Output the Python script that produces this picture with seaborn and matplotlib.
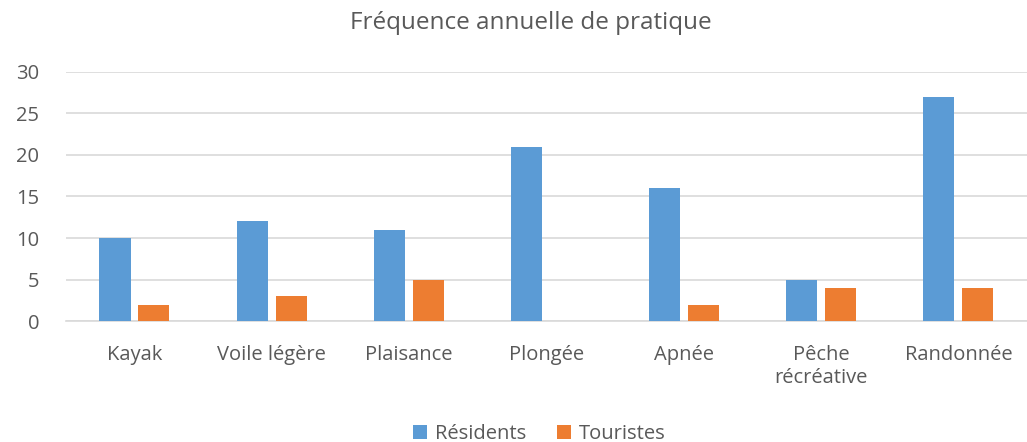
import matplotlib
matplotlib.use("Agg")
import matplotlib.pyplot as plt
import seaborn as sns
import pandas as pd

categories = ["Kayak", "Voile légère", "Plaisance", "Plongée", "Apnée", "Pêche\nrécréative", "Randonnée"]
residents = [10, 12, 11, 21, 16, 5, 27]
touristes = [2, 3, 5, 0, 2, 4, 4]
series_names = ["Résidents", "Touristes"]
yticks = [0, 5, 10, 15, 20, 25, 30]

df = pd.DataFrame({
    "Catégorie": categories * 2,
    "Valeur": residents + touristes,
    "Série": [series_names[0]] * len(categories) + [series_names[1]] * len(categories),
})

sns.set_theme(style="white")
plt.rcParams["font.family"] = ["Open Sans", "DejaVu Sans"]

fig = plt.figure(figsize=(10.27, 4.42), dpi=100)
ax = fig.add_axes([0.064, 0.273, 0.936, 0.565])

sns.barplot(data=df, x="Catégorie", y="Valeur", hue="Série",
            palette=["#5B9BD5", "#ED7D31"], saturation=1, width=0.565, gap=0.2,
            ax=ax, zorder=3, edgecolor="none")

ax.set_ylim(0, 30)
ax.set_xlim(-0.5, len(categories) - 0.5)
ax.set_yticks(yticks)
ax.set_yticklabels([str(t) for t in yticks])
ax.yaxis.grid(True, color="#D9D9D9", linewidth=1.2, zorder=0)
ax.set_axisbelow(True)
for s in ["top", "right", "left"]:
    ax.spines[s].set_visible(False)
ax.spines["bottom"].set_color("#D9D9D9")
ax.spines["bottom"].set_linewidth(1.2)
ax.tick_params(axis="both", length=0, labelsize=14.5, colors="#595959")
ax.tick_params(axis="x", pad=17)
ax.tick_params(axis="y", pad=19)
ax.set_xlabel("")
ax.set_ylabel("")

fig.suptitle("Fréquence annuelle de pratique", x=0.517, y=0.975, fontsize=17.5, color="#595959")

ax.legend_.remove()
handles, labels = ax.get_legend_handles_labels()
fig.legend(handles, labels, loc="lower center", bbox_to_anchor=(0.525, -0.045), ncol=2,
           frameon=False, fontsize=14.5, labelcolor="#595959", handlelength=0.7,
           handleheight=0.7, handletextpad=0.4, columnspacing=1.5)

fig.savefig("out.png", dpi=100)
